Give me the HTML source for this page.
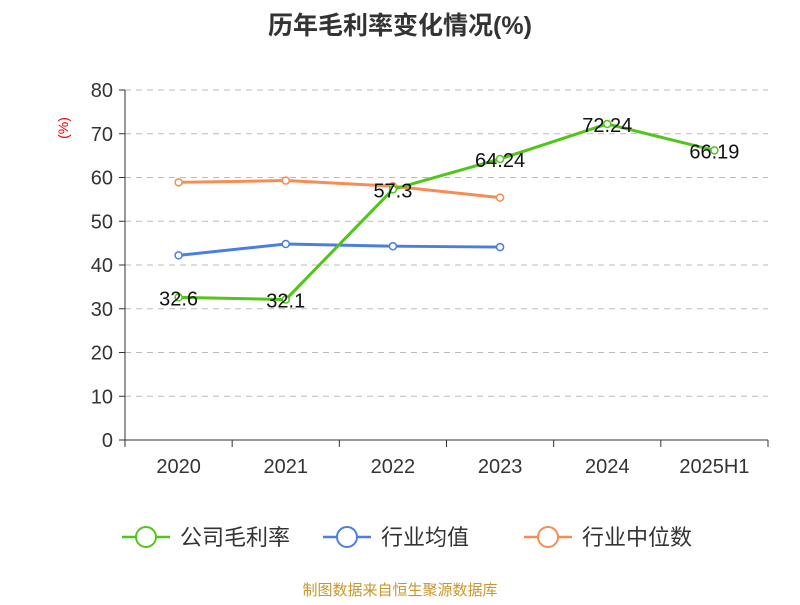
<!DOCTYPE html>
<html><head><meta charset="utf-8"><style>
body{margin:0;background:#fff;}
svg text{font-family:"Liberation Sans","Noto Sans CJK SC",sans-serif;}
</style></head><body>
<svg width="800" height="600" id="chart">
<text x="400" y="34" text-anchor="middle" font-size="25" font-weight="bold" fill="#333">历年毛利率变化情况(%)</text>
<text x="68" y="128" font-size="14" fill="#e00" transform="rotate(-90 68 128)" text-anchor="middle">(%)</text>
<g id="grid"></g><g id="axes"></g><g id="series"></g><g id="labels"></g>
<g id="legend"></g>
<text x="400" y="595" text-anchor="middle" font-size="15" fill="#c8962d">制图数据来自恒生聚源数据库</text>
</svg>
<script>
const categories=["2020","2021","2022","2023","2024","2025H1"];
const companyMargin=[32.6,32.1,57.3,64.24,72.24,66.19];
const industryAvg=[42.2,44.8,44.3,44.1];
const industryMedian=[58.9,59.3,58.0,55.4];
const yTicks=[0,10,20,30,40,50,60,70,80];
const companyLabels=["32.6","32.1","57.3","64.24","72.24","66.19"];
const NS="http://www.w3.org/2000/svg";
const L=125,R=768,T=90,B=440,yMax=80;
const bw=(R-L)/categories.length;
const xs=i=>L+bw*(i+0.5);
const ys=v=>B-(v/yMax)*(B-T);
function mk(tag,attrs,parent){const e=document.createElementNS(NS,tag);for(const k in attrs)e.setAttribute(k,attrs[k]);document.getElementById(parent).appendChild(e);return e;}
yTicks.forEach(t=>{
 if(t>0){const g=mk('line',{x1:L,x2:R,y1:ys(t),y2:ys(t),stroke:'#bbb','stroke-dasharray':'6,5'},'grid');
 }
 const tk=mk('line',{x1:L-6,x2:L,y1:ys(t),y2:ys(t),stroke:'#333'},'axes');
 
 const tx=mk('text',{x:L-12,y:ys(t)+7,'text-anchor':'end','font-size':20,fill:'#333'},'axes');tx.textContent=t;
 
});
const ya=mk('line',{x1:L,x2:L,y1:T,y2:B,stroke:'#333'},'axes');

const xa=mk('line',{x1:L,x2:R,y1:B,y2:B,stroke:'#333'},'axes');

for(let i=0;i<=categories.length;i++){const k=mk('line',{x1:L+bw*i,x2:L+bw*i,y1:B,y2:B+7,stroke:'#333'},'axes');
 }
categories.forEach((c,i)=>{const t=mk('text',{x:xs(i),y:473,'text-anchor':'middle','font-size':20,fill:'#333'},'axes');t.textContent=c;
 });
function series(vals,color,name){
 const p=mk('polyline',{points:vals.map((v,i)=>xs(i)+','+ys(v)).join(' '),fill:'none',stroke:color,'stroke-width':3},'series');
 
 vals.forEach((v,i)=>{const c=mk('circle',{cx:xs(i),cy:ys(v),r:3.5,fill:'#fff',stroke:color,'stroke-width':1.5},'series');
  });
}
series(industryAvg,'#4a7fe0','industry-avg');
series(industryMedian,'#f78c55','industry-median');
series(companyMargin,'#52c41a','company-margin');
companyMargin.forEach((v,i)=>{const t=mk('text',{x:xs(i),y:ys(v)+8,'text-anchor':'middle','font-size':20,fill:'#111'},'labels');t.textContent=companyLabels[i];
 });
const leg=[["公司毛利率",'#52c41a',122],["行业均值",'#4a7fe0',323],["行业中位数",'#f78c55',524]];
leg.forEach(([n,c,x])=>{
 const l=mk('line',{x1:x,x2:x+48,y1:537,y2:537,stroke:c,'stroke-width':2.5},'legend');
 
 const ci=mk('circle',{cx:x+24,cy:537,r:10,fill:'#fff',stroke:c,'stroke-width':2},'legend');
 
 const t=mk('text',{x:x+58,y:545,'font-size':22,fill:'#333'},'legend');t.textContent=n;
 
});
</script>
</body></html>
